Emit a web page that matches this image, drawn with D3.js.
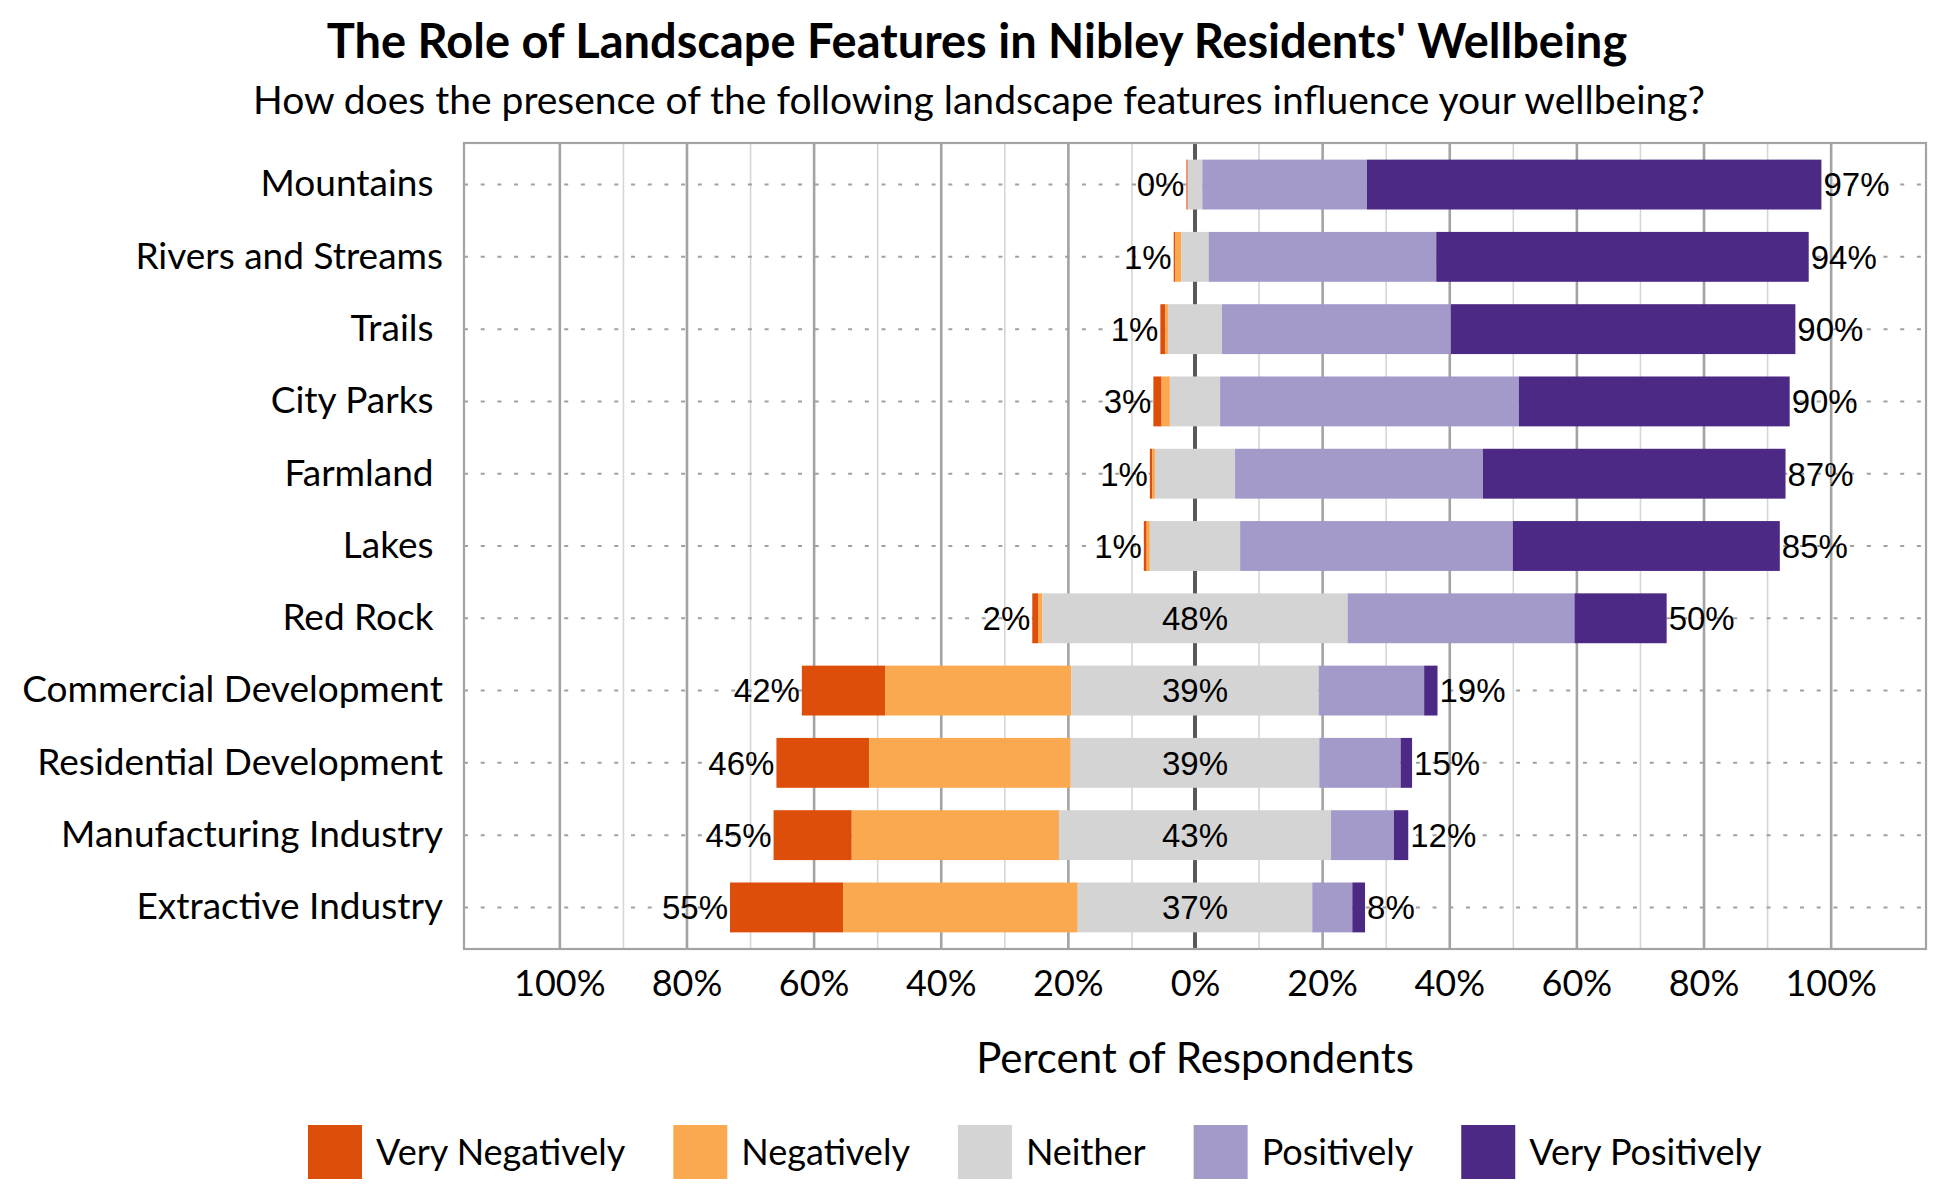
<!DOCTYPE html>
<html>
<head>
<meta charset="utf-8">
<script src="https://cdn.jsdelivr.net/npm/d3@7"></script>
<style>
  body { margin: 0; background: #fff; }
  .cat text { white-space: pre; }
</style>
</head>
<body>
<script>
var width = 1950;
var height = 1200;

// survey data, percent of respondents
var categories = ['Mountains ', 'Rivers and Streams', 'Trails ', 'City Parks ', 'Farmland ', 'Lakes ',
  'Red Rock ', 'Commercial Development', 'Residential Development', 'Manufacturing Industry', 'Extractive Industry'];
var veryNegative = [0.2, 0.2, 0.8, 1.3, 0.35, 0.45, 0.9, 13.1, 14.6, 12.3, 17.8];
var negative = [0, 1.0, 0.4, 1.3, 0.45, 0.5, 0.7, 29.3, 31.7, 32.6, 36.9];
var neither = [2.3, 4.3, 8.5, 7.9, 12.6, 14.2, 48.0, 38.9, 39.1, 42.8, 36.9];
var positive = [25.9, 35.8, 36.0, 47.0, 39.0, 42.9, 35.7, 16.6, 12.8, 9.9, 6.3];
var veryPositive = [71.5, 58.6, 54.2, 42.6, 47.6, 42.0, 14.5, 2.1, 1.8, 2.25, 2.0];

var responses = ['Very Negatively', 'Negatively', 'Neither', 'Positively', 'Very Positively'];
var colors = ['#de4e0b', '#fba951', '#d4d4d4', '#a39ac9', '#4d2986'];
var tickValues = [-100, -80, -60, -40, -20, 0, 20, 40, 60, 80, 100];

var labelFont = 'Lato, "Noto Sans", sans-serif';
var valueFont = '"Liberation Sans", Arial, sans-serif';

var plot = { left: 464, right: 1926, top: 143, bottom: 949 };

var svg = d3.select('body').append('svg')
  .attr('width', width)
  .attr('height', height);

var x = d3.scaleLinear().domain([-115, 115]).range([plot.left, plot.right]);
var y = d3.scaleBand().domain(categories).range([plot.top, plot.bottom])
  .paddingInner(0.31).paddingOuter(0.23);

// build stacked segments, neither split across zero
var rows = categories.map(function(c, i) {
  var vals = [veryNegative[i], negative[i], neither[i], positive[i], veryPositive[i]];
  var start = -(vals[0] + vals[1] + vals[2] / 2);
  var segs = vals.map(function(v, k) {
    var s = { cat: c, key: k, x0: start, x1: start + v };
    start += v;
    return s;
  });
  return { cat: c, segs: segs, neg: vals[0] + vals[1], mid: vals[2], pos: vals[3] + vals[4],
    left: segs[0].x0, right: segs[4].x1 };
});

// titles
svg.append('text')
  .attr('x', 977).attr('y', 42).attr('dy', '0.35em')
  .attr('text-anchor', 'middle')
  .style('font-family', labelFont).style('font-weight', 'bold').style('font-size', '47px')
  .text("The Role of Landscape Features in Nibley Residents' Wellbeing");

svg.append('text')
  .attr('x', 979).attr('y', 100).attr('dy', '0.35em')
  .attr('text-anchor', 'middle')
  .style('font-family', labelFont).style('font-size', '39px')
  .text('How does the presence of the following landscape features influence your wellbeing?');

// gridlines
var minorTicks = d3.range(-90, 100, 20);
svg.append('g')
  .attr('transform', 'translate(0,' + plot.bottom + ')')
  .call(d3.axisBottom(x).tickValues(minorTicks).tickSize(-(plot.bottom - plot.top)).tickFormat(''))
  .call(function(g) {
    g.select('.domain').remove();
    g.selectAll('line').attr('stroke', '#d6d6d6').attr('stroke-width', 1.6);
  });

svg.append('g')
  .attr('transform', 'translate(0,' + plot.bottom + ')')
  .call(d3.axisBottom(x).tickValues(tickValues.filter(function(d) { return d !== 0; }))
    .tickSize(-(plot.bottom - plot.top)).tickFormat(''))
  .call(function(g) {
    g.select('.domain').remove();
    g.selectAll('line').attr('stroke', '#a3a3a3').attr('stroke-width', 2.6);
  });

// dotted row guides
svg.append('g').selectAll('line')
  .data(categories)
  .join('line')
  .attr('x1', plot.left).attr('x2', plot.right)
  .attr('y1', function(d) { return y(d) + y.bandwidth() / 2; })
  .attr('y2', function(d) { return y(d) + y.bandwidth() / 2; })
  .attr('stroke', '#a0a0a0')
  .attr('stroke-width', 2)
  .attr('stroke-dasharray', '4 12.7');

// zero line
svg.append('line')
  .attr('x1', x(0)).attr('x2', x(0))
  .attr('y1', plot.top).attr('y2', plot.bottom)
  .attr('stroke', '#595959').attr('stroke-width', 4);

// plot border
svg.append('rect')
  .attr('x', plot.left).attr('y', plot.top)
  .attr('width', plot.right - plot.left).attr('height', plot.bottom - plot.top)
  .attr('fill', 'none').attr('stroke', '#a3a3a3').attr('stroke-width', 2.2);

// bars
svg.append('g').selectAll('g')
  .data(rows)
  .join('g')
  .selectAll('rect')
  .data(function(d) { return d.segs; })
  .join('rect')
  .attr('x', function(d) { return x(d.x0); })
  .attr('width', function(d) { return x(d.x1) - x(d.x0); })
  .attr('y', function(d) { return y(d.cat); })
  .attr('height', y.bandwidth())
  .attr('fill', function(d) { return colors[d.key]; });

// value labels
var labels = svg.append('g')
  .style('font-family', valueFont).style('font-size', '33px').attr('fill', '#000');

labels.selectAll('.neg')
  .data(rows)
  .join('text')
  .attr('class', 'neg')
  .attr('x', function(d) { return x(d.left) - 2; })
  .attr('y', function(d) { return y(d.cat) + y.bandwidth() / 2; })
  .attr('dy', '0.36em')
  .attr('text-anchor', 'end')
  .text(function(d) { return Math.round(d.neg) + '%'; });

labels.selectAll('.pos')
  .data(rows)
  .join('text')
  .attr('class', 'pos')
  .attr('x', function(d) { return x(d.right) + 2; })
  .attr('y', function(d) { return y(d.cat) + y.bandwidth() / 2; })
  .attr('dy', '0.36em')
  .text(function(d) { return Math.round(d.pos) + '%'; });

labels.selectAll('.mid')
  .data(rows.filter(function(d) { return d.mid > 20; }))
  .join('text')
  .attr('class', 'mid')
  .attr('x', x(0))
  .attr('y', function(d) { return y(d.cat) + y.bandwidth() / 2; })
  .attr('dy', '0.36em')
  .attr('text-anchor', 'middle')
  .text(function(d) { return Math.round(d.mid) + '%'; });

// category axis
svg.append('g')
  .attr('class', 'cat')
  .attr('transform', 'translate(' + (plot.left - 21) + ',0)')
  .call(d3.axisLeft(y).tickSize(0).tickPadding(0))
  .call(function(g) {
    g.select('.domain').remove();
    g.selectAll('text').style('font-family', labelFont).style('font-size', '37px').attr('fill', '#000');
  });

// x axis labels
svg.append('g')
  .attr('transform', 'translate(0,' + 983 + ')')
  .call(d3.axisBottom(x).tickValues(tickValues).tickSize(0).tickPadding(0)
    .tickFormat(function(d) { return Math.abs(d) + '%'; }))
  .call(function(g) {
    g.select('.domain').remove();
    g.selectAll('text').attr('dy', '0.35em').attr('y', 0)
      .style('font-family', labelFont).style('font-size', '36px').attr('fill', '#000');
  });

svg.append('text')
  .attr('x', x(0)).attr('y', 1058).attr('dy', '0.35em')
  .attr('text-anchor', 'middle')
  .style('font-family', labelFont).style('font-size', '42px')
  .text('Percent of Respondents');

// legend
var legend = svg.append('g').attr('transform', 'translate(308,1125)');
var lx = 0;
responses.forEach(function(r, i) {
  var item = legend.append('g').attr('transform', 'translate(' + lx + ',0)');
  item.append('rect').attr('width', 54).attr('height', 54).attr('fill', colors[i]);
  var t = item.append('text')
    .attr('x', 68).attr('y', 27).attr('dy', '0.35em')
    .style('font-family', labelFont).style('font-size', '36px')
    .text(r);
  lx += 68 + t.node().getComputedTextLength() + 48;
});
</script>
</body>
</html>
